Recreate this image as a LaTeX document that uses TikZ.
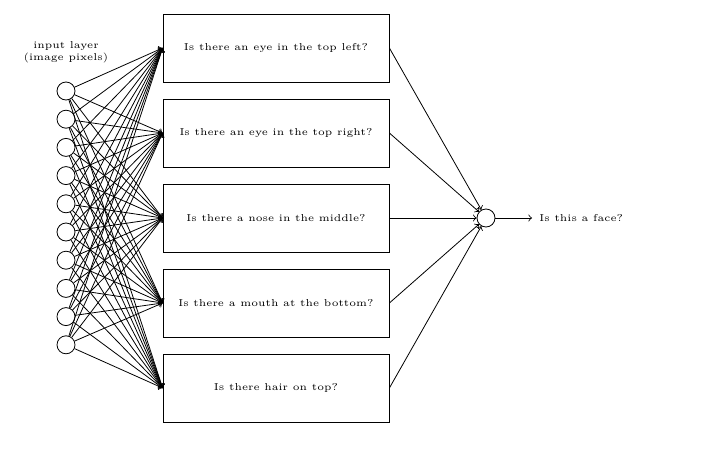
\documentclass[tikz,border=0pt]{standalone}
\usetikzlibrary{positioning}
\begin{document}
\begin{tikzpicture}[x=0.5pt, y=-0.5pt, font=\tiny,
	neuron/.style={circle, draw, minimum size=9pt, inner sep=0pt},
	feature/.style={draw, minimum width=113pt, minimum height=34pt}]
	\useasboundingbox (0,0) rectangle (713,450);
	% input layer
	\foreach \i in {1,...,10} {
		\node[neuron] (in\i) at (66,{91+28.2*(\i-1)}) {};
	}
	\node[align=center] (inlabel) at (66,52) {input layer\\(image pixels)};
	% hidden layer
	\node[feature] (h1) at (276,48) {Is there an eye in the top left?};
	\node[feature] (h2) at (276,133) {Is there an eye in the top right?};
	\node[feature] (h3) at (276,218) {Is there a nose in the middle?};
	\node[feature] (h4) at (276,303) {Is there a mouth at the bottom?};
	\node[feature] (h5) at (276,388) {Is there hair on top?};
	% output
	\node[neuron] (out) at (486,218) {};
	\node[anchor=west, inner sep=3.5pt] (face) at (532,218) {Is this a face?};
	\foreach \i in {1,...,10}
		\foreach \j in {1,...,5}
			\draw[->] (in\i) -- (h\j.west);
	\foreach \j in {1,...,5}
		\draw[->] (h\j.east) -- (out);
	\draw[->] (out) -- (face);
\end{tikzpicture}
\end{document}
